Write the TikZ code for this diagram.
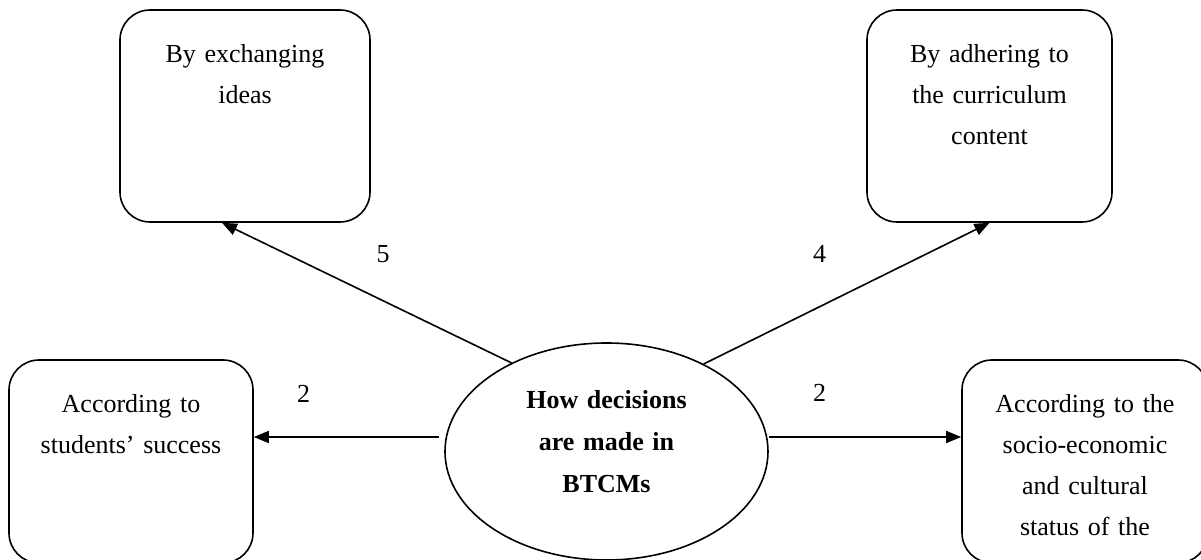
\documentclass[tikz,border=0pt]{standalone}
\usepackage{fontspec}
\setmainfont{Liberation Serif}
\usetikzlibrary{arrows.meta,shapes.geometric}
\begin{document}
\begin{tikzpicture}
  [x=0.5pt,y=-0.5pt,line width=0.8pt,
   every node/.style={font=\fontsize{13}{20.5}\selectfont, inner sep=0pt},
   box/.style={draw, rounded corners=15pt, align=center, text width=123pt, text height=26.5pt, text depth=#1},
   arr/.style={-{Triangle[length=7.5pt,width=6pt]}}]
  \useasboundingbox (0,0) rectangle (1201,560);

  \node[box=79.5pt, text width=125pt] (ex) at (245,116) {By exchanging\\ ideas};
  \node[box=79.5pt, text width=122.5pt] (cur) at (989.5,116) {By adhering to\\ the curriculum\\ content};
  \node[box=75pt, text width=122pt] (stu) at (131,461.5) {According to\\ students' success};
  \node[box=75pt] (soc) at (1085,461.5) {According to the\\ socio-economic\\ and cultural\\ status of the};
  \node[draw, ellipse, minimum width=161.5pt, minimum height=108.5pt, text width=90pt, align=center,
        text height=10pt, text depth=52.5pt, font=\fontsize{13}{21}\selectfont\bfseries]
        (how) at (606.5,451.5) {How decisions\\ are made in\\ BTCMs};

  \node (w5) at (383,254) {5};
  \node (w4) at (819.5,254) {4};
  \node (w2a) at (303.5,393.5) {2};
  \node (w2b) at (819.5,393) {2};

  \draw[arr] (how.137) -- ([xshift=-11.5pt]ex.south);
  \draw[arr] (how.42) -- (cur.south);
  \draw[arr, shorten <=2.5pt] ([yshift=7.25pt]how.west) -- ([yshift=12.25pt]stu.east);
  \draw[arr] ([yshift=7.25pt]how.east) -- ([yshift=12.25pt]soc.west);
\end{tikzpicture}
\end{document}
